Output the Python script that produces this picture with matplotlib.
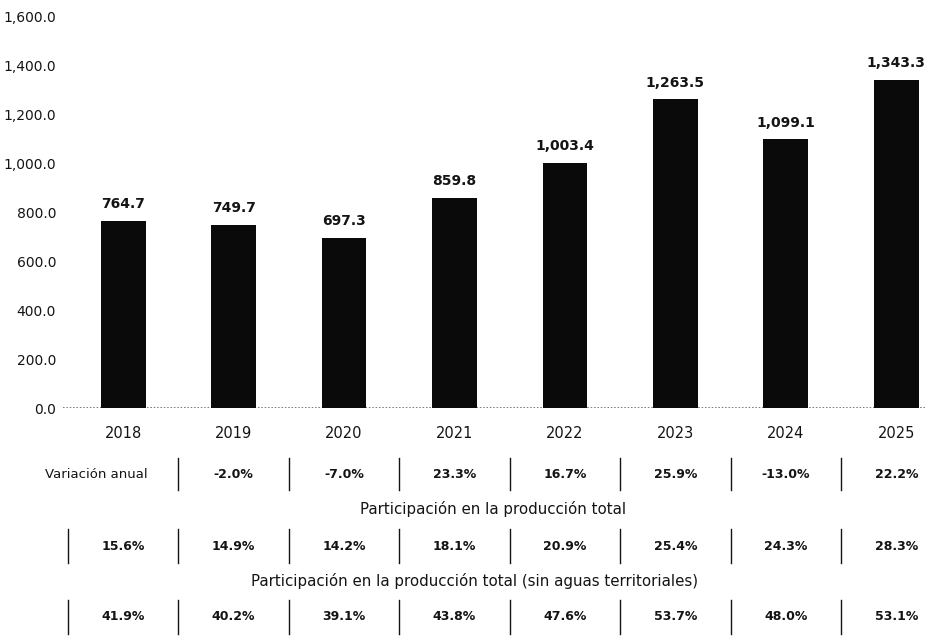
import matplotlib
matplotlib.use("Agg")
import matplotlib.pyplot as plt
import matplotlib.transforms as mtransforms
from matplotlib.ticker import FuncFormatter

years = ["2018", "2019", "2020", "2021", "2022", "2023", "2024", "2025"]
values = [764.7, 749.7, 697.3, 859.8, 1003.4, 1263.5, 1099.1, 1343.3]
variacion = ["-2.0%", "-7.0%", "23.3%", "16.7%", "25.9%", "-13.0%", "22.2%"]
participacion = ["15.6%", "14.9%", "14.2%", "18.1%", "20.9%", "25.4%", "24.3%", "28.3%"]
participacion_sin = ["41.9%", "40.2%", "39.1%", "43.8%", "47.6%", "53.7%", "48.0%", "53.1%"]
row1_label = "Variación anual"
row2_title = "Participación en la producción total"
row3_title = "Participación en la producción total (sin aguas territoriales)"

plt.rcParams['font.family'] = ['DejaVu Sans']
TXT = "#141414"
W, H = 925, 638
fig = plt.figure(figsize=(W / 100, H / 100), dpi=100)

def fy(py):
    return 1 - py / H

ax_left, ax_right = 63 / W, 925 / W
ax_bottom, ax_top = fy(408), fy(17)
ax = fig.add_axes([ax_left, ax_bottom, ax_right - ax_left, ax_top - ax_bottom])

x = list(range(len(years)))
ax.bar(x, values, width=0.405, color="#0a0a0a", zorder=2)
for xi, v in zip(x, values):
    ax.annotate(f"{v:,.1f}", (xi, v), xytext=(0, 7), textcoords="offset points",
                ha="center", va="bottom", fontsize=10, fontweight="bold", color=TXT)

ax.set_ylim(0, 1600)
ax.set_xlim(-0.545, 7.26)
ax.set_yticks(range(0, 1601, 200))
ax.yaxis.set_major_formatter(FuncFormatter(lambda v, p: f"{v:,.1f}"))
ax.tick_params(axis="y", length=0, pad=5, labelsize=10, labelcolor=TXT)
ax.set_xticks([])
for s in ax.spines.values():
    s.set_visible(False)
ax.axhline(0, color="#555555", lw=1.1, ls=(0, (1, 1.2)), zorder=1)

trans = mtransforms.blended_transform_factory(ax.transData, fig.transFigure)

# year labels
for xi, y in zip(x, years):
    ax.text(xi, fy(434), y, transform=trans, ha="center", va="center",
            fontsize=10.5, color=TXT)

def seps(positions, yc, half=16):
    for p in positions:
        ax.plot([p, p], [fy(yc - half), fy(yc + half)], transform=trans,
                color=TXT, lw=1.0, clip_on=False)

# row 1
r1 = 474
ax.text(-0.24, fy(r1), row1_label, transform=trans, ha="center", va="center",
        fontsize=9.5, color=TXT)
for xi, t in zip(x[1:], variacion):
    ax.text(xi, fy(r1), t, transform=trans, ha="center", va="center",
            fontsize=9, fontweight="bold", color=TXT)
seps([xi - 0.5 for xi in x[1:]], r1)

# row 2
ax.text(3.35, fy(509), row2_title, transform=trans, ha="center", va="center",
        fontsize=10.8, color=TXT)
r2 = 546
for xi, t in zip(x, participacion):
    ax.text(xi, fy(r2), t, transform=trans, ha="center", va="center",
            fontsize=9, fontweight="bold", color=TXT)
seps([xi - 0.5 for xi in x], r2, 17)

# row 3
ax.text(3.18, fy(581), row3_title, transform=trans, ha="center", va="center",
        fontsize=10.8, color=TXT)
r3 = 617
for xi, t in zip(x, participacion_sin):
    ax.text(xi, fy(r3), t, transform=trans, ha="center", va="center",
            fontsize=9, fontweight="bold", color=TXT)
seps([xi - 0.5 for xi in x], r3, 17)

fig.savefig("out.png", dpi=100, facecolor="white")
